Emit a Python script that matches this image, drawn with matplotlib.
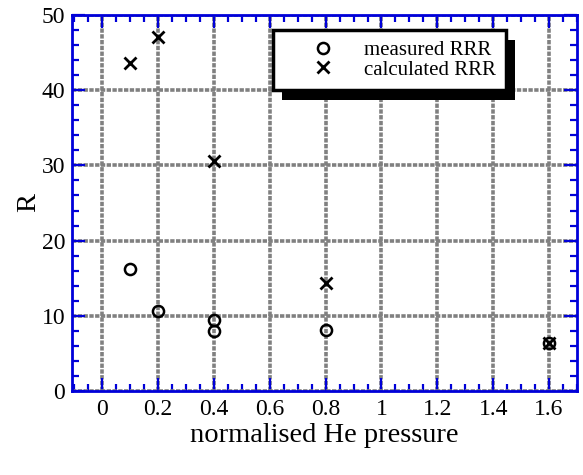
import numpy as np
import matplotlib
matplotlib.use("Agg")
import matplotlib.pyplot as plt
import matplotlib.patheffects as pe
from matplotlib.ticker import MultipleLocator, FormatStrFormatter

# measured / calculated RRR vs normalised He pressure
meas_x = [0.1, 0.2, 0.4, 0.4, 0.8, 1.6]
meas_y = [16.2, 10.6, 9.5, 8.0, 8.1, 6.4]
calc_x = [0.1, 0.2, 0.4, 0.8, 1.6]
calc_y = [43.6, 47.1, 30.6, 14.3, 6.4]

plt.rcParams['font.family'] = ['Liberation Serif', 'DejaVu Serif']

fig = plt.figure(figsize=(5.83, 4.75), dpi=100)
ax = fig.add_axes([72/583, 1 - 391/475, (577-72)/583, (391-15)/475])

blue = (0, 0, 0.85)

ax.plot(meas_x, meas_y, linestyle="none", marker="o", markersize=8,
        markerfacecolor="none", markeredgecolor="black", markeredgewidth=1.8,
        label="measured RRR", zorder=5)
ax.plot(calc_x, calc_y, linestyle="none", marker="x", markersize=8,
        color="black", markeredgewidth=2.0, label="calculated RRR", zorder=5)

ax.set_xlim(-0.108, 1.7)
ax.set_ylim(0, 50)
ax.xaxis.set_major_locator(MultipleLocator(0.2))
ax.xaxis.set_minor_locator(MultipleLocator(0.05))
ax.yaxis.set_major_locator(MultipleLocator(10))
ax.yaxis.set_minor_locator(MultipleLocator(2))
ax.xaxis.set_major_formatter(FormatStrFormatter("%g"))

ax.grid(True, which="major", color=(0.5, 0.5, 0.5), linestyle=(0, (1.2, 0.4)),
        linewidth=2.6, zorder=0)
ax.set_axisbelow(True)

for s in ax.spines.values():
    s.set_color(blue)
    s.set_linewidth(2)
ax.tick_params(which="both", direction="in", top=True, right=True,
               color=blue, labelsize=17, labelcolor="black")
ax.tick_params(which="major", length=9.5, width=1.6)
ax.tick_params(axis="x", which="major", pad=6)
ax.tick_params(axis="y", which="major", pad=5)
ax.tick_params(which="minor", length=5, width=1.6)

ax.set_xlabel("normalised He pressure", fontsize=20.5, labelpad=2)
ax.set_ylabel("R", fontsize=20.5, labelpad=0)

leg = ax.legend(loc="upper left", bbox_to_anchor=((273-72)/505, 1 - (30-15)/376),
                frameon=True, fancybox=False, fontsize=15, borderpad=0.5,
                handletextpad=0.05, labelspacing=0.0, handlelength=3.8,
                borderaxespad=0)
fr = leg.get_frame()
fr.set_edgecolor("black")
fr.set_linewidth(2.5)
fr.set_facecolor("white")
fr.set_alpha(1)
fr.set_path_effects([pe.SimplePatchShadow(offset=(6.5, -7), shadow_rgbFace="black", alpha=1),
                     pe.Normal()])

fig.savefig("out.png", dpi=100)
